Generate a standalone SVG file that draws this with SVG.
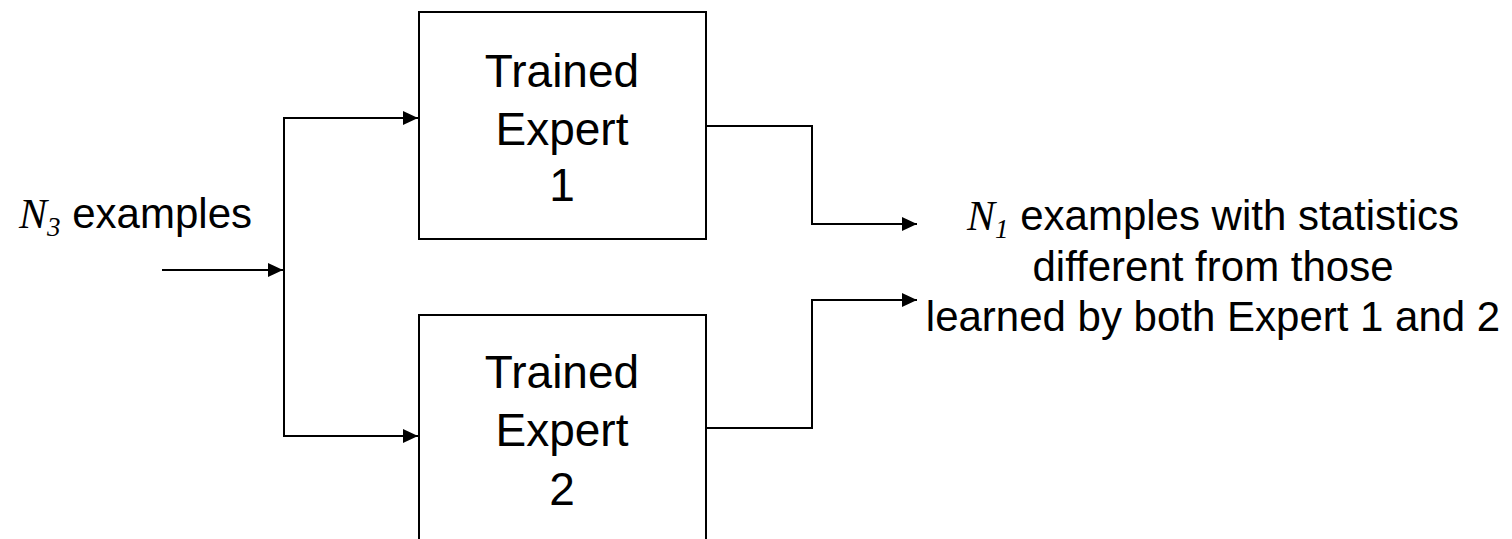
<svg xmlns="http://www.w3.org/2000/svg" width="1512" height="539" viewBox="0 0 1512 539">
  <style>
    .box { fill: #ffffff; stroke: #000000; stroke-width: 2; }
    .conn { fill: none; stroke: #000000; stroke-width: 2; }
    .lbl { font-family: "Liberation Sans", Arial, sans-serif; fill: #000000; }
    .big { font-size: 46px; text-anchor: middle; }
    .mid { font-size: 42px; }
    .math { font-family: "Liberation Serif", "Times New Roman", serif; font-style: italic; }
  </style>
  <defs>
    <marker id="arrow" markerUnits="userSpaceOnUse" markerWidth="16" markerHeight="16" viewBox="0 0 16 16" refX="15" refY="8" orient="auto">
      <path d="M0,1 L15,8 L0,15 Z" fill="#000000"/>
    </marker>
  </defs>
  <rect width="1512" height="539" fill="#ffffff"/>

  <g id="connectors">
    <line class="conn" x1="162" y1="270" x2="283" y2="270" marker-end="url(#arrow)"/>
    <line class="conn" x1="284" y1="118" x2="284" y2="436"/>
    <polyline class="conn" points="283,118 418,118" marker-end="url(#arrow)"/>
    <polyline class="conn" points="283,436 418,436" marker-end="url(#arrow)"/>
    <polyline class="conn" points="706,126 812,126 812,224 917,224" marker-end="url(#arrow)"/>
    <polyline class="conn" points="706,428 812,428 812,300 917,300" marker-end="url(#arrow)"/>
  </g>

  <g id="expert1">
    <rect class="box" x="419" y="12" width="287" height="227"/>
    <text class="lbl big" x="562" y="87">Trained</text>
    <text class="lbl big" x="562" y="145">Expert</text>
    <text class="lbl big" x="562" y="201">1</text>
  </g>

  <g id="expert2">
    <rect class="box" x="419" y="315" width="287" height="240"/>
    <text class="lbl big" x="562" y="388">Trained</text>
    <text class="lbl big" x="562" y="446">Expert</text>
    <text class="lbl big" x="562" y="505">2</text>
  </g>

  <g id="input-label">
    <text class="lbl mid" x="252" y="228" text-anchor="end"><tspan class="math">N</tspan><tspan class="math" font-size="27" dy="8">3</tspan><tspan dy="-8"> examples</tspan></text>
  </g>

  <g id="output-label">
    <text class="lbl mid" x="1213" y="230" text-anchor="middle"><tspan class="math">N</tspan><tspan class="math" font-size="27" dy="8">1</tspan><tspan dy="-8"> examples with statistics</tspan></text>
    <text class="lbl mid" x="1213" y="281" text-anchor="middle">different from those</text>
    <text class="lbl mid" x="1213" y="331" text-anchor="middle">learned by both Expert 1 and 2</text>
  </g>
</svg>
